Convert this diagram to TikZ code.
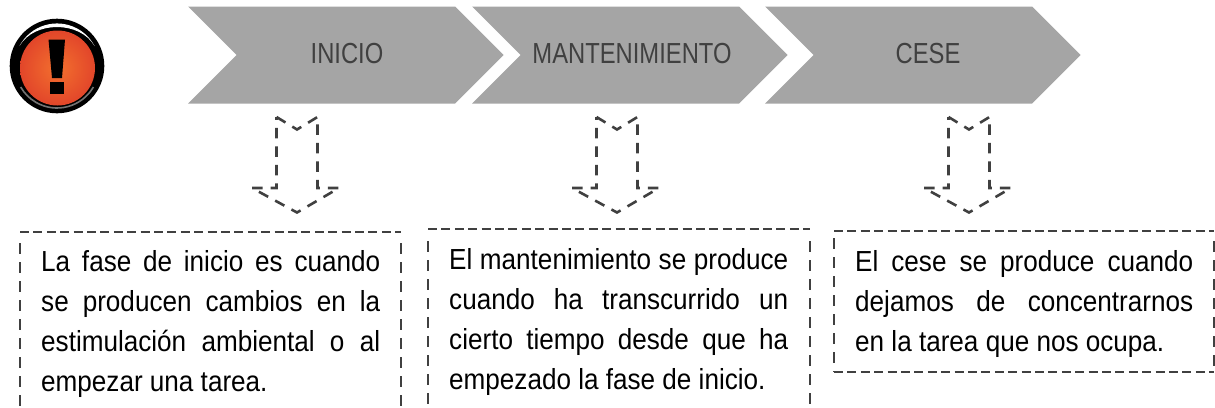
\documentclass[tikz,border=0pt]{standalone}
\usepackage{fontspec}
\setmainfont{Liberation Sans}
\newfontface\narrowface[FakeStretch=0.9]{Liberation Sans}
\newfontface\chevface[FakeStretch=0.82]{Liberation Sans}
\definecolor{dk}{HTML}{404040}
\definecolor{chev}{HTML}{A5A5A5}
\definecolor{redin}{HTML}{F3702E}
\definecolor{redout}{HTML}{E2462A}
\tikzset{
  chevshape/.style={fill=chev,draw=none},
  chevtext/.style={text=dk,font=\chevface\fontsize{29}{32}\selectfont,inner sep=0pt},
  arrowline/.style={draw=dk,line width=2.6pt,dash pattern=on 10.5pt off 8pt},
  hline/.style={draw=dk,line width=2.8pt,dash pattern=on 9pt off 4.4pt},
  vline/.style={draw=dk,line width=2.5pt,dash pattern=on 10.5pt off 8.5pt},
  bodytext/.style={text=black,font=\narrowface\fontsize{29}{40}\selectfont,inner sep=0pt,anchor=north west,align=justify},
}
\newcommand{\chevronat}[2]{%
  \path[chevshape] (#1,6.5) -- (#2,6.5) -- (#2+48.5,55) -- (#2,103.5) -- (#1,103.5) -- (#1+48.5,55) -- cycle;
}
\newcommand{\downarrowat}[1]{%
  \draw[arrowline,line join=miter] (#1-20.5,117) -- (#1,129.5) -- (#1+20.5,117) -- (#1+20.5,188) -- (#1+42,188) -- (#1,212.5) -- (#1-45,188) -- (#1-20.5,188) -- cycle;
}
\begin{document}
\begin{tikzpicture}[x=1pt,y=-1pt]
\useasboundingbox (0,0) rectangle (1215,407);
% warning icon
\fill[black] (57,66) circle (47.3);
\fill[white] (19.5,46) arc[start angle=208,end angle=332,radius=42.5] .. controls (80,20.7) and (34,20.7) .. cycle;
\draw[black!55,line width=1.6pt] (57,66) ++(30:42) arc[start angle=30,end angle=150,radius=42];
\shade[inner color=redin,outer color=redout] (57.5,68) circle (37.5);
\fill[black] (48.5,39.5) -- (65,39.5) -- (62,78) -- (52,78) -- cycle;
\fill[black] (49.5,81.5) rectangle (63.5,94);
% chevrons
\chevronat{188}{455}
\chevronat{472}{739}
\chevronat{765}{1032}
\node[chevtext] (inicio) at (347,54) {INICIO};
\node[chevtext] (mant) at (632,54) {MANTENIMIENTO};
\node[chevtext] (cese) at (928,54) {CESE};
% arrows
\downarrowat{297}
\downarrowat{617}
\downarrowat{969}
% boxes
\draw[hline] (20,232) -- (401,232);
\draw[vline] (20,243) -- (20,407);
\draw[vline] (401,243) -- (401,407);
\draw[hline] (428,229) -- (810,229);
\draw[vline] (428,241) -- (428,407);
\draw[vline] (810,241) -- (810,407);
\draw[hline] (834,231) -- (1214,231);
\draw[hline] (834,372) -- (1214,372);
\draw[vline] (834,238) -- (834,372);
\draw[vline] (1214,241) -- (1214,372);
\node[bodytext,text width=339pt] (t1) at (41,250) {La fase de inicio es cuando\linebreak se producen cambios en la\linebreak estimulación ambiental o al\linebreak empezar una tarea.};
\node[bodytext,text width=339pt] (t2) at (449,248) {El mantenimiento se produce\linebreak cuando ha transcurrido un\linebreak cierto tiempo desde que ha\linebreak empezado la fase de inicio.};
\node[bodytext,text width=338pt] (t3) at (855,250) {El cese se produce cuando\linebreak dejamos de concentrarnos\linebreak en la tarea que nos ocupa.};
\end{tikzpicture}
\end{document}
